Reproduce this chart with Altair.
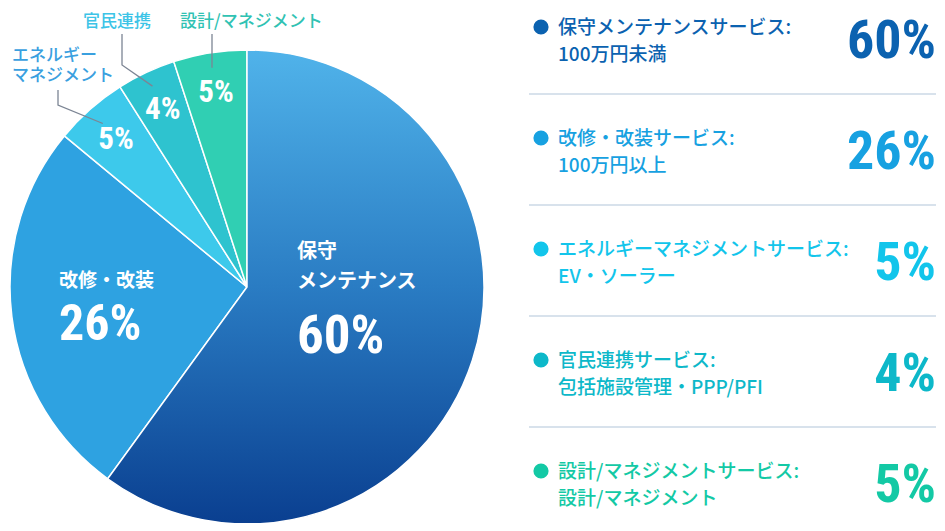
import math
import altair as alt
import pandas as pd

# ---------------- data ----------------
categories = ["保守メンテナンス", "改修・改装", "エネルギーマネジメント", "官民連携", "設計/マネジメント"]
shares = [60, 26, 5, 4, 5]
share_labels = ["60%", "26%", "5%", "4%", "5%"]
inside_names = [["保守", "メンテナンス"], ["改修・改装"], [], [], []]
outside_names = [[], [], ["エネルギー", "マネジメント"], ["官民連携"], ["設計/マネジメント"]]
service_titles = ["保守メンテナンスサービス:", "改修・改装サービス:", "エネルギーマネジメントサービス:",
                  "官民連携サービス:", "設計/マネジメントサービス:"]
service_details = ["100万円未満", "100万円以上", "EV・ソーラー", "包括施設管理・PPP/PFI", "設計/マネジメント"]

# ---------------- styles / layout ----------------
slice_colors = ["#2B7BC2", "#2EA2E1", "#3DC9EB", "#2EC3CF", "#30CFB3"]
list_colors = ["#0B62B0", "#17A1E1", "#12C5EB", "#0DB8C9", "#13C9A5"]
outside_colors = ["#000", "#000", "#3AA0DF", "#3CC4E7", "#30C2B3"]
JP = "Noto Sans CJK JP"
NUM = "Roboto Condensed, Liberation Sans Narrow, Arial Narrow, DejaVu Sans Condensed, sans-serif"
W, H = 929, 515
CX, CY, R = 239, 279, 237
# inner labels: (x, first line y, line step, name size, pct baseline, pct size)
inner_layout = {0: (289, 244, 30, 20, 345, 53), 1: (51, 273, 30, 19, 332, 50)}
# outside labels: (text x, first line y, line step, leader x, elbow y or None, leader top y, leader radius)
outside_layout = {2: (4, 48, 20, 50, 97, 82, 218), 3: (75, 14, 20, 114, 57, 26, 222), 4: (172, 14, 20, 204, None, 26, 222)}
ROW0, ROW_STEP = 20, 111
DOT_X, TEXT_X, PCT_X, LINE_X0 = 533, 550, 928, 521

# ---------------- derived tables ----------------
df = pd.DataFrame({"cat": categories, "value": shares, "label": share_labels})
df["end"] = df["value"].cumsum()
df["start"] = df["end"] - df["value"]
df["mid"] = df["start"] + df["value"] / 2


def polar(pct, r):
    a = pct / 100 * 2 * math.pi
    return CX + r * math.sin(a), CY - r * math.cos(a)


theta_scale = alt.Scale(domain=[0, 100], range=[0, 2 * math.pi])

arcs = alt.Chart(df).mark_arc(radius=R, stroke="white", strokeWidth=1.5).encode(
    theta=alt.Theta("start:Q", scale=theta_scale, stack=None),
    theta2="end:Q",
    color=alt.Color("cat:N", scale=alt.Scale(domain=categories, range=slice_colors), legend=None),
    x=alt.value(CX), y=alt.value(CY),
)

grad = alt.LinearGradient(
    gradient="linear",
    stops=[alt.GradientStop(color="#50B3EA", offset=0),
           alt.GradientStop(color="#2A7CC3", offset=0.5),
           alt.GradientStop(color="#0A3F90", offset=1)],
    x1=0, x2=0, y1=0, y2=1,
)
main_arc = alt.Chart(df.iloc[[0]]).mark_arc(radius=R, fill=grad, stroke="white", strokeWidth=1.5).encode(
    theta=alt.Theta("start:Q", scale=theta_scale, stack=None),
    theta2="end:Q",
    x=alt.value(CX), y=alt.value(CY),
)

# leader lines
lead_rows = []
for i, (tx, ty, step, lx, ey, topy, lr) in outside_layout.items():
    px, py = polar(df.loc[i, "mid"], lr)
    pts = [(px, py)]
    if ey is not None:
        pts.append((lx, ey))
    else:
        pts[0] = (lx, py)
    pts.append((lx, topy))
    for k, (x, y) in enumerate(pts):
        lead_rows.append({"id": i, "k": k, "px": x, "py": y})
leaders = alt.Chart(pd.DataFrame(lead_rows)).mark_line(color="#7C8594", strokeWidth=1.3).encode(
    x=alt.X("px:Q", scale=None, axis=None),
    y=alt.Y("py:Q", scale=None, axis=None),
    detail="id:N", order="k:Q",
)

# text tables
inner_jp, inner_pct, small_pct, outside_jp, list_jp, list_pct, dots, dividers = ([] for _ in range(8))
for i in range(len(categories)):
    if i in inner_layout:
        x, y0, step, fs, pb, ps = inner_layout[i]
        for k, t in enumerate(inside_names[i]):
            inner_jp.append({"px": x, "py": y0 + k * step, "t": t, "fs": fs})
        inner_pct.append({"px": x, "py": pb, "t": share_labels[i], "fs": ps})
    else:
        x, y = polar(df.loc[i, "mid"], 198)
        small_pct.append({"px": x, "py": y + 11, "t": share_labels[i], "fs": 31})
    if i in outside_layout:
        tx, ty = outside_layout[i][:2]
        outside_jp.append({"px": tx, "py": ty, "t": "\n".join(outside_names[i]), "c": outside_colors[i]})
    ry = ROW0 + i * ROW_STEP
    list_jp.append({"px": TEXT_X, "py": ry, "t": service_titles[i], "c": list_colors[i]})
    list_jp.append({"px": TEXT_X, "py": ry + 27, "t": service_details[i], "c": list_colors[i]})
    list_pct.append({"px": PCT_X, "py": ry + 30, "t": share_labels[i], "c": list_colors[i]})
    dots.append({"px": DOT_X, "py": ry - 1, "c": list_colors[i]})
    if i < len(categories) - 1:
        dividers.append({"py": ry + 66})


def pos():
    return dict(x=alt.X("px:Q", scale=None, axis=None), y=alt.Y("py:Q", scale=None, axis=None))


l_inner_jp = alt.Chart(pd.DataFrame(inner_jp)).mark_text(
    font=JP, fontWeight="bold", color="white", align="left", baseline="middle").encode(
    text="t:N", size=alt.Size("fs:Q", scale=None, legend=None), **pos())
l_inner_pct = alt.Chart(pd.DataFrame(inner_pct)).mark_text(
    font=NUM, fontWeight="bold", color="white", align="left", baseline="alphabetic").encode(
    text="t:N", size=alt.Size("fs:Q", scale=None, legend=None), **pos())
l_small_pct = alt.Chart(pd.DataFrame(small_pct)).mark_text(
    font=NUM, fontWeight="bold", color="white", align="center", baseline="alphabetic").encode(
    text="t:N", size=alt.Size("fs:Q", scale=None, legend=None), **pos())
l_outside = alt.Chart(pd.DataFrame(outside_jp)).mark_text(
    font=JP, fontWeight=500, fontSize=17, align="left", baseline="middle",
    lineBreak="\n", lineHeight=20).encode(
    text="t:N", color=alt.Color("c:N", scale=None), **pos())
l_list = alt.Chart(pd.DataFrame(list_jp)).mark_text(
    font=JP, fontWeight=500, fontSize=19, align="left", baseline="middle").encode(
    text="t:N", color=alt.Color("c:N", scale=None), **pos())
l_list_pct = alt.Chart(pd.DataFrame(list_pct)).mark_text(
    font=NUM, fontWeight="bold", fontSize=54, align="right", baseline="alphabetic").encode(
    text="t:N", color=alt.Color("c:N", scale=None), **pos())
l_dots = alt.Chart(pd.DataFrame(dots)).mark_circle(size=230, opacity=1).encode(
    color=alt.Color("c:N", scale=None), **pos())
l_div = alt.Chart(pd.DataFrame(dividers)).mark_rule(color="#CBD8E6", strokeWidth=1.5).encode(
    x=alt.value(LINE_X0), x2=alt.value(PCT_X), y=alt.Y("py:Q", scale=None, axis=None))

chart = alt.layer(
    arcs, main_arc, leaders, l_inner_jp, l_inner_pct, l_small_pct, l_outside,
    l_div, l_dots, l_list, l_list_pct,
).properties(width=W, height=H, padding=0, autosize="none").configure_view(stroke=None)

chart.save("out.html", embed_options={"renderer": "svg", "actions": False})
